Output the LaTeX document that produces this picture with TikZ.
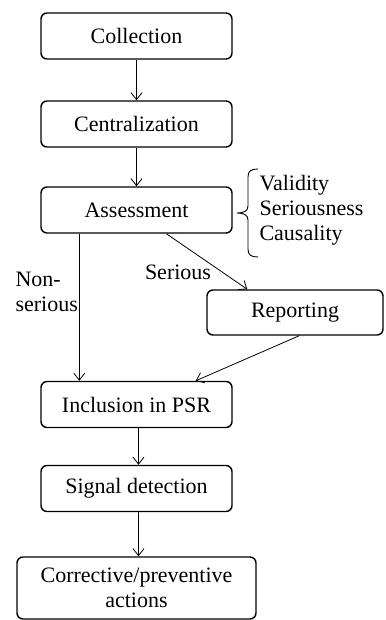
\documentclass[tikz,border=0pt]{standalone}
\usepackage{fontspec}
\setmainfont{Liberation Serif}
\usetikzlibrary{arrows.meta}

\tikzset{
	stage/.style={draw, line width=1.4pt, rounded corners=6pt, minimum width=191pt, minimum height=46pt, inner sep=2pt, align=center},
	flow/.style={line width=0.8pt, -{Straight Barb[length=7pt,width=11pt]}},
}

\begin{document}
\begin{tikzpicture}[x=1pt, y=-1pt, font=\fontsize{22}{25}\selectfont]
		\useasboundingbox (0,0) rectangle (385,620);
		% main chain of stages
		\node[stage] (coll) at (136.5,36) {Collection};
		\node[stage] (cent) at (136.5,124) {Centralization};
		\node[stage] (asse) at (136.5,210) {Assessment};
		\node[stage, minimum width=176pt, minimum height=45pt] (repo) at (295,312.5) {Reporting};
		\node[stage] (incl) at (136.5,404.5) {Inclusion in PSR};
		\node[stage] (sign) at (136.5,488.5) {Signal detection};
		\node[stage, minimum width=239pt, minimum height=62pt] (corr) at (136.5,588) {Corrective/preventive\\actions};

		% criteria of the assessment, with a hand drawn brace
		\draw[line width=0.9pt] (258,169) .. controls (251,169) and (248,171) .. (248,177) -- (248,206)
			.. controls (248,211) and (244,213) .. (237,213) .. controls (244,213) and (248,215) .. (248,220)
			-- (248,249) .. controls (248,255) and (251,257) .. (258,257);
		\node[anchor=west, align=left] (crit) at (256,210) {Validity\\Seriousness\\Causality};

		% arrows
		\draw[flow] (coll) -- (cent);
		\draw[flow] (cent) -- (asse);
		\draw[flow] ([xshift=39pt]asse.south west) -- ([xshift=39pt]incl.north west);
		\draw[flow] ([xshift=126pt]asse.south west) -- ([xshift=41pt]repo.north west);
		\draw[flow] ([xshift=93pt]repo.south west) -- ([xshift=-37pt]incl.north east);
		\draw[flow] ([xshift=2pt]incl.south) -- ([xshift=2pt]sign.north);
		\draw[flow] ([xshift=2pt]sign.south) -- ([xshift=2pt]corr.north);

		% branch labels
		\node[anchor=west, align=left] (nons) at (12,292) {Non-\\serious};
		\node (seri) at (178,272) {Serious};
	\end{tikzpicture}
\end{document}
